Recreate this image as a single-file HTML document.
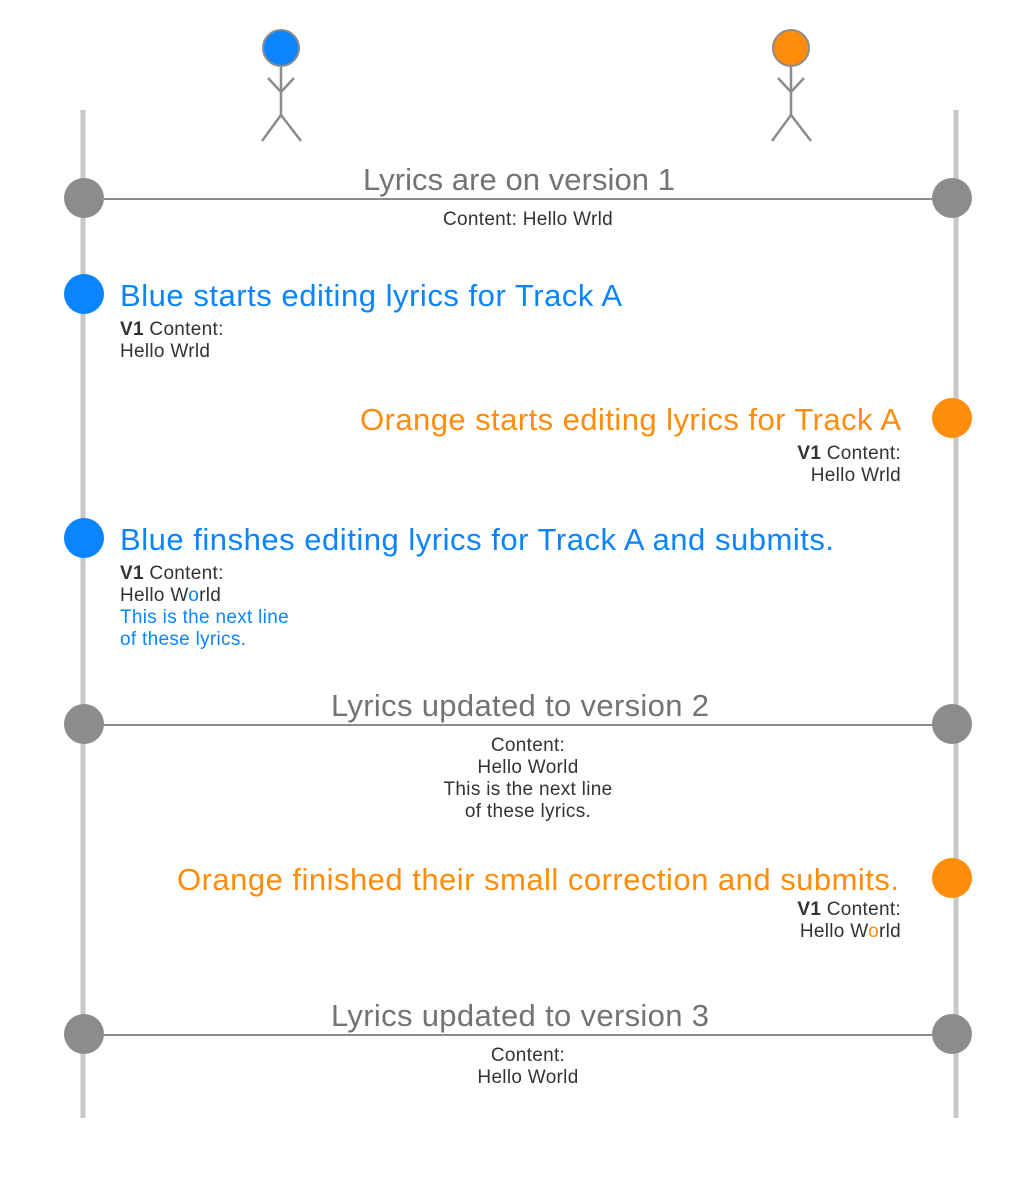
<!DOCTYPE html>
<html><head><meta charset="utf-8"><style>
html,body{margin:0;padding:0;background:#fff;}
svg{display:block;}
text{font-family:"Liberation Sans",sans-serif;}
.t{font-size:31px;}
.s{font-size:19px;fill:#333;letter-spacing:0.3px;}
</style></head><body>
<svg width="1034" height="1182" viewBox="0 0 1034 1182">
<g stroke="#8c8c8c" stroke-width="2.5" fill="none">
<line x1="281" y1="66" x2="281" y2="115"/><polyline points="268,78 281,92 294,78"/><polyline points="262,141 281,115 301,141"/>
<line x1="791" y1="66" x2="791" y2="115"/><polyline points="778,78 791,92 804,78"/><polyline points="772,141 791,115 811,141"/>
</g>
<circle cx="281" cy="48" r="18" fill="#0a84ff" stroke="#8c8c8c" stroke-width="2"/>
<circle cx="791" cy="48" r="18" fill="#ff8c0a" stroke="#8c8c8c" stroke-width="2"/>
<rect x="80.5" y="110" width="5" height="1008" fill="#c8c8c8"/>
<rect x="953.5" y="110" width="5" height="1008" fill="#c8c8c8"/>
<g stroke="#8c8c8c" stroke-width="2">
<line x1="104" y1="199" x2="932" y2="199"/>
<line x1="104" y1="725" x2="932" y2="725"/>
<line x1="104" y1="1035" x2="932" y2="1035"/>
</g>
<g fill="#8c8c8c">
<circle cx="84" cy="198" r="20"/><circle cx="952" cy="198" r="20"/>
<circle cx="84" cy="724" r="20"/><circle cx="952" cy="724" r="20"/>
<circle cx="84" cy="1034" r="20"/><circle cx="952" cy="1034" r="20"/>
</g>
<circle cx="84" cy="294" r="20" fill="#0a84ff"/>
<circle cx="84" cy="538" r="20" fill="#0a84ff"/>
<circle cx="952" cy="418" r="20" fill="#ff8c0a"/>
<circle cx="952" cy="878" r="20" fill="#ff8c0a"/>

<text class="t" x="363" y="190" fill="#737373" textLength="312">Lyrics are on version 1</text>
<text class="s" x="443" y="225" textLength="170">Content: Hello Wrld</text>

<text class="t" x="120" y="306" fill="#0a84ff" textLength="502">Blue starts editing lyrics for Track A</text>
<text class="s" x="120" y="335"><tspan font-weight="bold">V1</tspan> Content:</text>
<text class="s" x="120" y="357">Hello Wrld</text>

<text class="t" x="360" y="430" fill="#ff8c0a" textLength="541">Orange starts editing lyrics for Track A</text>
<text class="s" x="901" y="459" text-anchor="end"><tspan font-weight="bold">V1</tspan> Content:</text>
<text class="s" x="901" y="481" text-anchor="end">Hello Wrld</text>

<text class="t" x="120" y="550" fill="#0a84ff" textLength="714">Blue finshes editing lyrics for Track A and submits.</text>
<text class="s" x="120" y="579"><tspan font-weight="bold">V1</tspan> Content:</text>
<text class="s" x="120" y="601">Hello W<tspan fill="#0a84ff">o</tspan>rld</text>
<text class="s" x="120" y="623" style="fill:#0a84ff">This is the next line</text>
<text class="s" x="120" y="645" style="fill:#0a84ff">of these lyrics.</text>

<text class="t" x="331" y="716" fill="#737373" textLength="378">Lyrics updated to version 2</text>
<text class="s" x="528" y="751" text-anchor="middle">Content:</text>
<text class="s" x="528" y="773" text-anchor="middle">Hello World</text>
<text class="s" x="528" y="795" text-anchor="middle">This is the next line</text>
<text class="s" x="528" y="817" text-anchor="middle">of these lyrics.</text>

<text class="t" x="177" y="890" fill="#ff8c0a" textLength="722">Orange finished their small correction and submits.</text>
<text class="s" x="901" y="915" text-anchor="end"><tspan font-weight="bold">V1</tspan> Content:</text>
<text class="s" x="901" y="937" text-anchor="end">Hello W<tspan fill="#ff8c0a">o</tspan>rld</text>

<text class="t" x="331" y="1026" fill="#737373" textLength="378">Lyrics updated to version 3</text>
<text class="s" x="528" y="1061" text-anchor="middle">Content:</text>
<text class="s" x="528" y="1083" text-anchor="middle">Hello World</text>
</svg>
</body></html>
